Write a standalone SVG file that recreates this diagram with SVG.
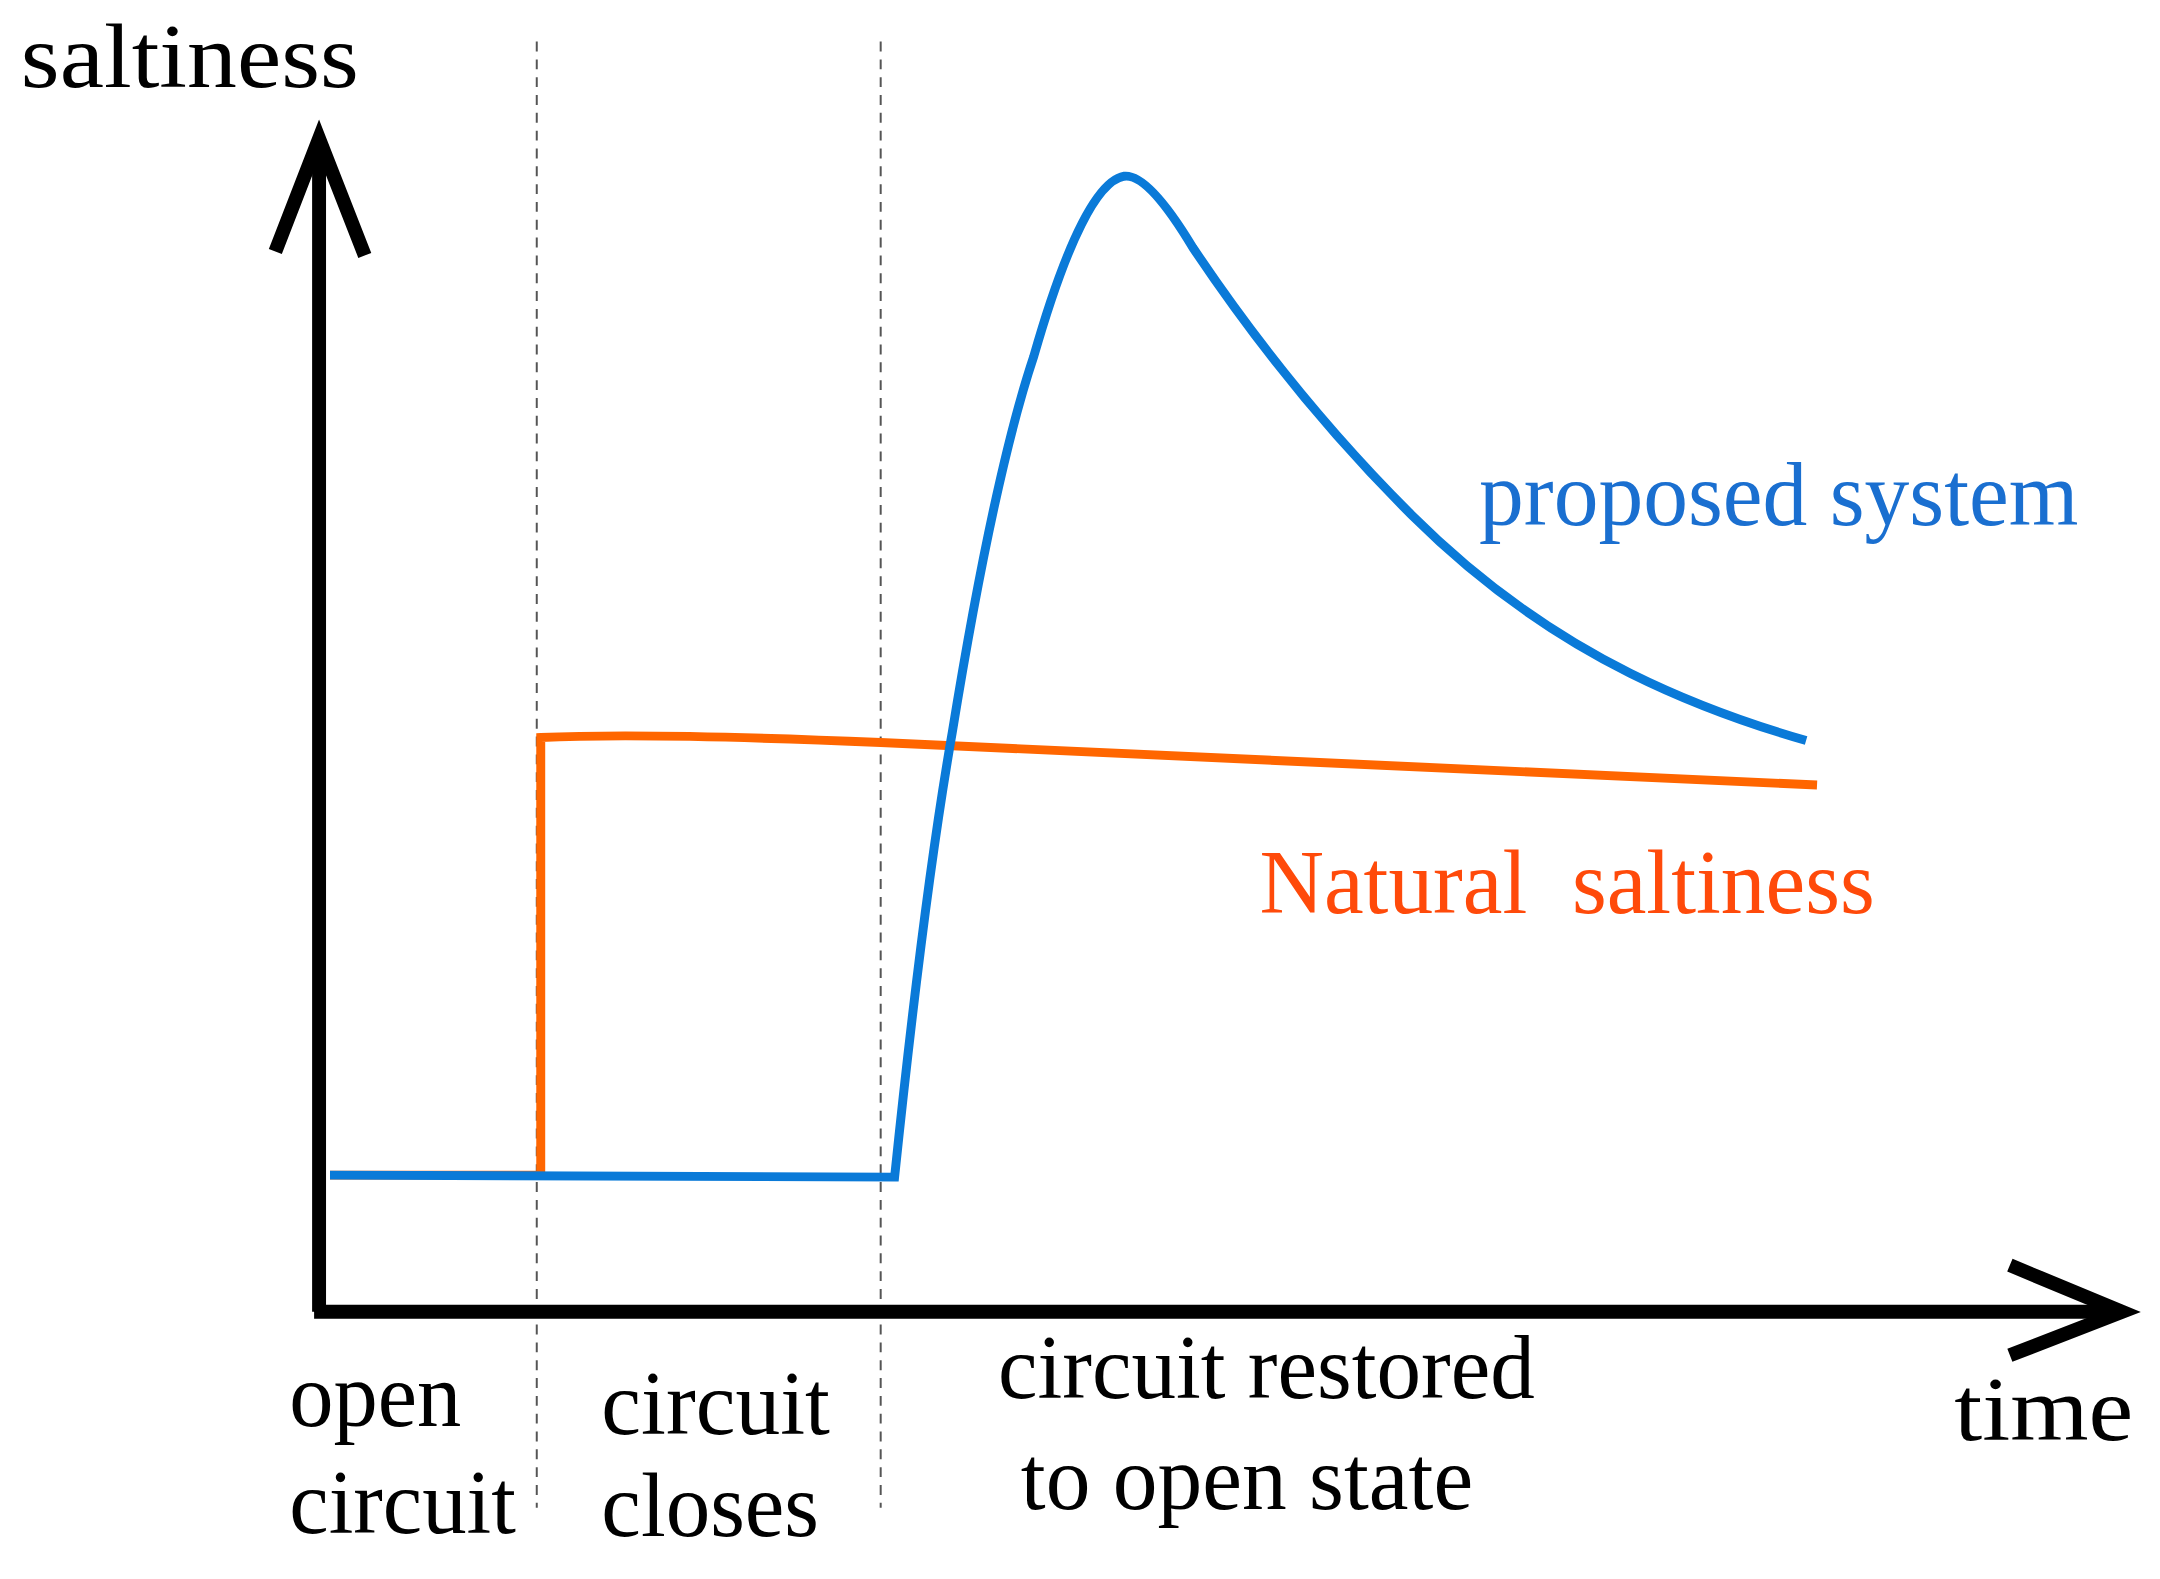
<svg xmlns="http://www.w3.org/2000/svg" width="2160" height="1579" viewBox="0 0 2160 1579">
<style>
text{font-family:"Liberation Serif","Times New Roman",serif;font-size:92px;fill:#000}
.ax{fill:none;stroke:#000;stroke-width:14;stroke-linecap:butt}
.dash{stroke:#555;stroke-width:2;stroke-dasharray:10,8}
</style>
<rect width="2160" height="1579" fill="#fff"/>
<g transform="scale(0.994,0.99)">
<g id="guides">
<line class="dash" x1="540" y1="42" x2="540" y2="1523"/>
<line class="dash" x1="886" y1="42" x2="886" y2="1523"/>
</g>
<g id="axes">
<path class="ax" d="M321 1325 V140 M316 1325 H2135"/>
<path class="ax" d="M277 254 L321 140 L367 258"/>
<path class="ax" d="M2022 1278 L2135 1325 L2022 1369"/>
</g>
<g id="curves">
<path d="M332 1187 L540 1187 L544 1187 L544 745 Q650 740 886 750 L1828 793" fill="none" stroke="#ff6600" stroke-width="9"/>
<path d="M332 1187 L900 1189 Q930 900 958 740 Q1000 480 1040 360 Q1090 185 1131 178 Q1155 175 1200 250 Q1300 400 1420 520 Q1520 620 1640 680 Q1720 720 1817 748" fill="none" stroke="#0a7ad8" stroke-width="9"/>
</g>
<g id="labels">
<text x="21" y="88" textLength="340" lengthAdjust="spacingAndGlyphs">saltiness</text>
<text x="1488" y="530" textLength="603" lengthAdjust="spacingAndGlyphs" style="fill:#1a6fd0">proposed system</text>
<text x="1267" y="922" textLength="619" lengthAdjust="spacingAndGlyphs" style="fill:#ff4a0a" xml:space="preserve">Natural  saltiness</text>
<text x="291" y="1440" textLength="173" lengthAdjust="spacingAndGlyphs">open</text>
<text x="291" y="1548" textLength="228" lengthAdjust="spacingAndGlyphs">circuit</text>
<text x="605" y="1448" textLength="230" lengthAdjust="spacingAndGlyphs">circuit</text>
<text x="605" y="1552" textLength="219" lengthAdjust="spacingAndGlyphs">closes</text>
<text x="1004" y="1412" textLength="540" lengthAdjust="spacingAndGlyphs">circuit restored</text>
<text x="1027" y="1524" textLength="455" lengthAdjust="spacingAndGlyphs">to open state</text>
<text x="1966" y="1455" textLength="180" lengthAdjust="spacingAndGlyphs">time</text>
</g>
</g>
</svg>
